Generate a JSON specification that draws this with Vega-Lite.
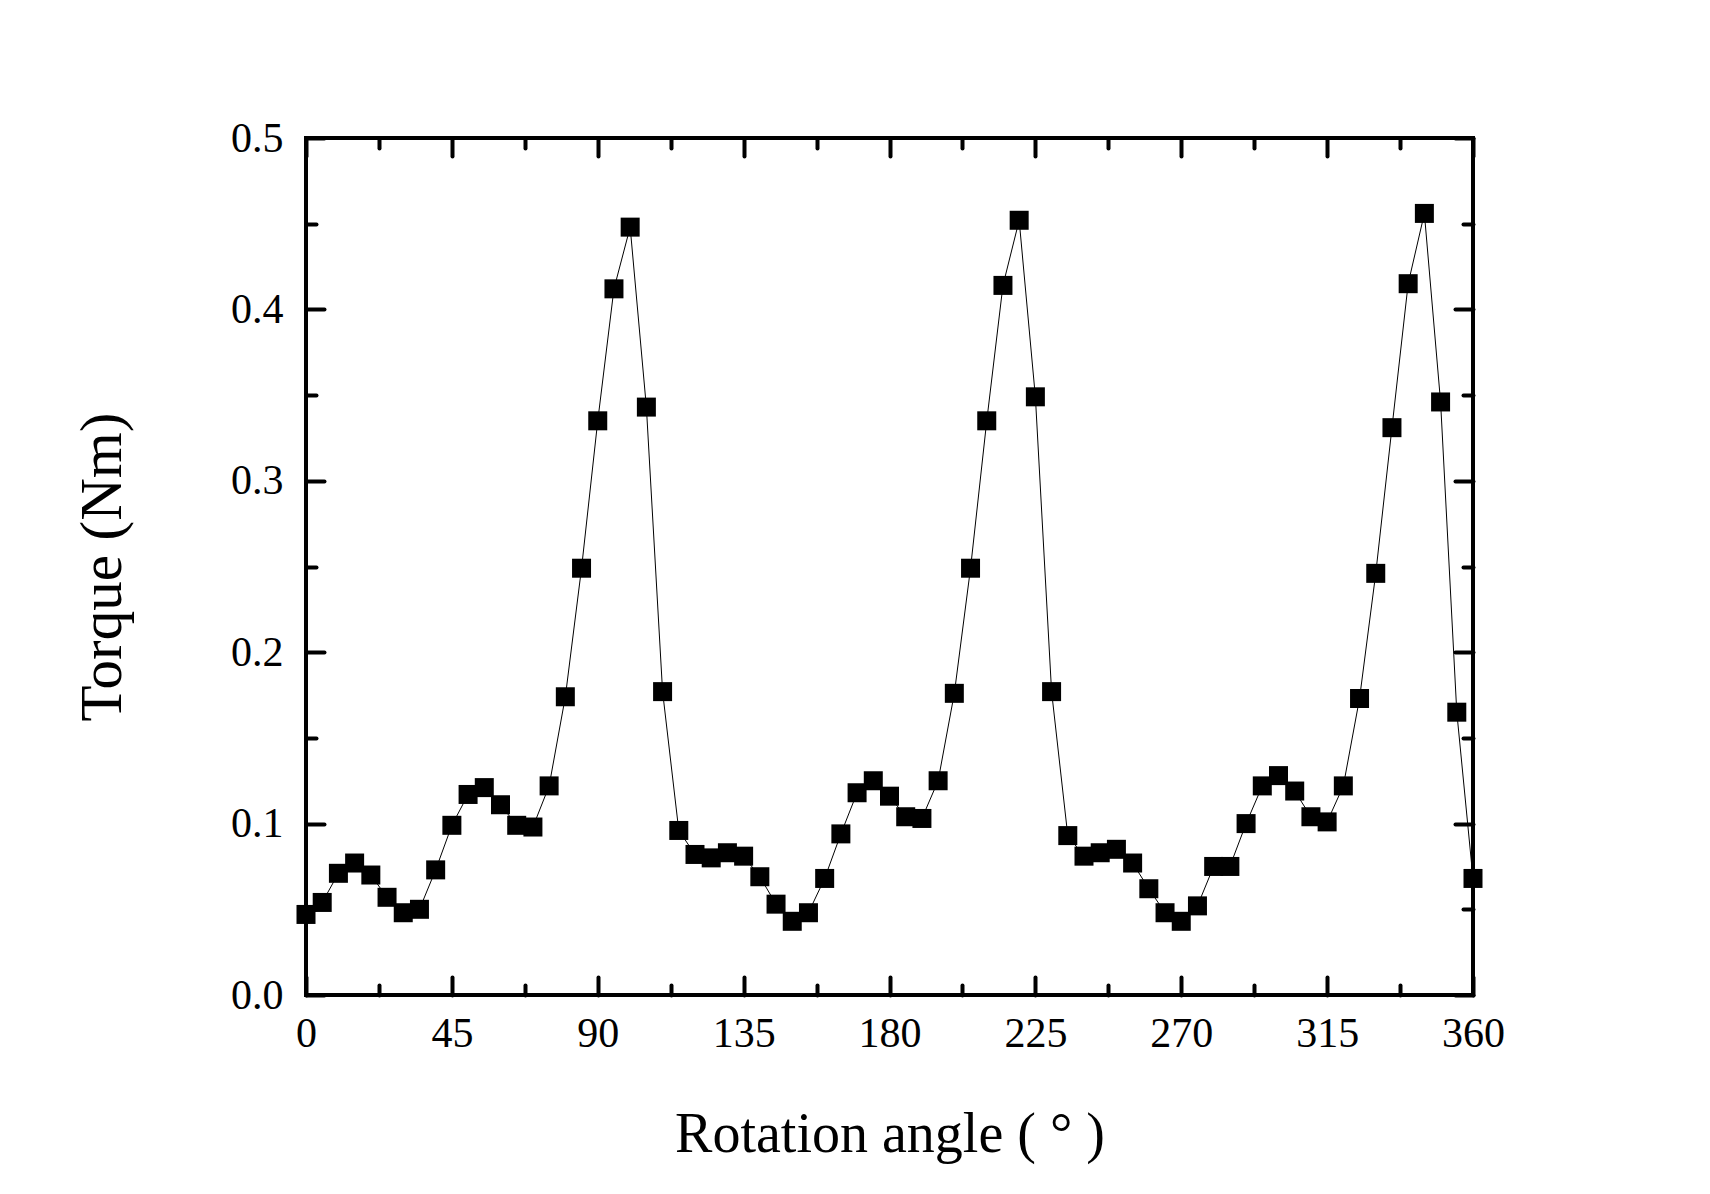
{
  "$schema": "https://vega.github.io/schema/vega-lite/v6.json",
  "width": 1167,
  "height": 857,
  "autosize": {"type": "none"},
  "padding": {"left": 306, "top": 138, "right": 237, "bottom": 199},
  "background": "white",
  "config": {
    "view": {"stroke": "black", "strokeWidth": 4},
    "font": "Liberation Serif",
    "axis": {
      "domain": false,
      "grid": false,
      "tickColor": "black",
      "tickWidth": 4,
      "tickCap": "round",
      "labelFont": "Liberation Serif",
      "labelColor": "black",
      "titleFont": "Liberation Serif",
      "titleColor": "black",
      "titleFontWeight": "normal"
    }
  },
  "data": {
    "values": [
      {"angle": 0, "torque": 0.047},
      {"angle": 5, "torque": 0.054},
      {"angle": 10, "torque": 0.071},
      {"angle": 15, "torque": 0.077},
      {"angle": 20, "torque": 0.070},
      {"angle": 25, "torque": 0.057},
      {"angle": 30, "torque": 0.048},
      {"angle": 35, "torque": 0.050},
      {"angle": 40, "torque": 0.073},
      {"angle": 45, "torque": 0.099},
      {"angle": 50, "torque": 0.117},
      {"angle": 55, "torque": 0.121},
      {"angle": 60, "torque": 0.111},
      {"angle": 65, "torque": 0.099},
      {"angle": 70, "torque": 0.098},
      {"angle": 75, "torque": 0.122},
      {"angle": 80, "torque": 0.174},
      {"angle": 85, "torque": 0.249},
      {"angle": 90, "torque": 0.335},
      {"angle": 95, "torque": 0.412},
      {"angle": 100, "torque": 0.448},
      {"angle": 105, "torque": 0.343},
      {"angle": 110, "torque": 0.177},
      {"angle": 115, "torque": 0.096},
      {"angle": 120, "torque": 0.082},
      {"angle": 125, "torque": 0.080},
      {"angle": 130, "torque": 0.083},
      {"angle": 135, "torque": 0.081},
      {"angle": 140, "torque": 0.069},
      {"angle": 145, "torque": 0.053},
      {"angle": 150, "torque": 0.043},
      {"angle": 155, "torque": 0.048},
      {"angle": 160, "torque": 0.068},
      {"angle": 165, "torque": 0.094},
      {"angle": 170, "torque": 0.118},
      {"angle": 175, "torque": 0.125},
      {"angle": 180, "torque": 0.116},
      {"angle": 185, "torque": 0.104},
      {"angle": 190, "torque": 0.103},
      {"angle": 195, "torque": 0.125},
      {"angle": 200, "torque": 0.176},
      {"angle": 205, "torque": 0.249},
      {"angle": 210, "torque": 0.335},
      {"angle": 215, "torque": 0.414},
      {"angle": 220, "torque": 0.452},
      {"angle": 225, "torque": 0.349},
      {"angle": 230, "torque": 0.177},
      {"angle": 235, "torque": 0.093},
      {"angle": 240, "torque": 0.081},
      {"angle": 245, "torque": 0.083},
      {"angle": 250, "torque": 0.085},
      {"angle": 255, "torque": 0.077},
      {"angle": 260, "torque": 0.062},
      {"angle": 265, "torque": 0.048},
      {"angle": 270, "torque": 0.043},
      {"angle": 275, "torque": 0.052},
      {"angle": 280, "torque": 0.075},
      {"angle": 285, "torque": 0.075},
      {"angle": 290, "torque": 0.100},
      {"angle": 295, "torque": 0.122},
      {"angle": 300, "torque": 0.128},
      {"angle": 305, "torque": 0.119},
      {"angle": 310, "torque": 0.104},
      {"angle": 315, "torque": 0.101},
      {"angle": 320, "torque": 0.122},
      {"angle": 325, "torque": 0.173},
      {"angle": 330, "torque": 0.246},
      {"angle": 335, "torque": 0.331},
      {"angle": 340, "torque": 0.415},
      {"angle": 345, "torque": 0.456},
      {"angle": 350, "torque": 0.346},
      {"angle": 355, "torque": 0.165},
      {"angle": 360, "torque": 0.068}
    ]
  },
  "resolve": {"axis": {"x": "independent", "y": "independent"}},
  "layer": [
    {
      "mark": {"type": "line", "color": "black", "strokeWidth": 1, "clip": false},
      "encoding": {
        "x": {
          "field": "angle", "type": "quantitative",
          "scale": {"domain": [0, 360], "nice": false, "zero": false},
          "axis": {
            "orient": "bottom",
            "values": [0, 45, 90, 135, 180, 225, 270, 315, 360],
            "tickSize": -18,
            "labelFontSize": 42,
            "labelPadding": 36,
            "labelFlush": false,
            "title": "Rotation angle ( ° )",
            "titleFontSize": 56,
            "titlePadding": 53
          }
        },
        "y": {
          "field": "torque", "type": "quantitative",
          "scale": {"domain": [0, 0.5], "nice": false},
          "axis": {
            "orient": "left",
            "values": [0, 0.1, 0.2, 0.3, 0.4, 0.5],
            "format": ".1f",
            "tickSize": -18,
            "labelFontSize": 42,
            "labelPadding": 41,
            "labelFlush": false,
            "title": "Torque (Nm)",
            "titleFontSize": 59,
            "titlePadding": 98
          }
        }
      }
    },
    {
      "mark": {"type": "point", "shape": "square", "filled": true, "color": "black", "opacity": 1, "size": 361, "clip": false},
      "encoding": {
        "x": {
          "field": "angle", "type": "quantitative",
          "axis": {
            "orient": "bottom",
            "values": [22.5, 67.5, 112.5, 157.5, 202.5, 247.5, 292.5, 337.5],
            "tickSize": -10,
            "labels": false,
            "title": null
          }
        },
        "y": {
          "field": "torque", "type": "quantitative",
          "axis": {
            "orient": "left",
            "values": [0.05, 0.15, 0.25, 0.35, 0.45],
            "tickSize": -10,
            "labels": false,
            "title": null
          }
        }
      }
    },
    {
      "mark": {"type": "point", "opacity": 0},
      "encoding": {
        "x": {
          "field": "angle", "type": "quantitative",
          "axis": {
            "orient": "top",
            "values": [0, 45, 90, 135, 180, 225, 270, 315, 360],
            "tickSize": -18,
            "labels": false,
            "title": null
          }
        },
        "y": {
          "field": "torque", "type": "quantitative",
          "axis": {
            "orient": "right",
            "values": [0, 0.1, 0.2, 0.3, 0.4, 0.5],
            "tickSize": -18,
            "labels": false,
            "title": null
          }
        }
      }
    },
    {
      "mark": {"type": "point", "opacity": 0},
      "encoding": {
        "x": {
          "field": "angle", "type": "quantitative",
          "axis": {
            "orient": "top",
            "values": [22.5, 67.5, 112.5, 157.5, 202.5, 247.5, 292.5, 337.5],
            "tickSize": -10,
            "labels": false,
            "title": null
          }
        },
        "y": {
          "field": "torque", "type": "quantitative",
          "axis": {
            "orient": "right",
            "values": [0.05, 0.15, 0.25, 0.35, 0.45],
            "tickSize": -10,
            "labels": false,
            "title": null
          }
        }
      }
    }
  ]
}
